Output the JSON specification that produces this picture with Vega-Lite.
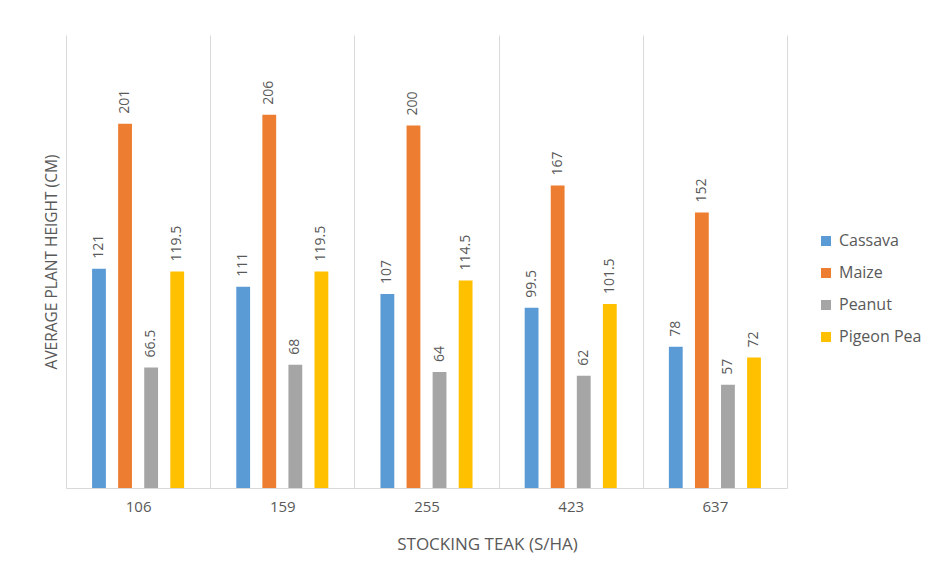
{
  "$schema": "https://vega.github.io/schema/vega-lite/v6.json",
  "width": 721,
  "height": 453,
  "autosize": "none",
  "padding": {"left": 66, "top": 35, "right": 141, "bottom": 75},
  "background": "white",
  "config": {
    "view": {"stroke": null},
    "font": "Open Sans"
  },
  "data": {
    "values": [
      {"stocking": "106", "crop": "Cassava", "height": 121},
      {"stocking": "106", "crop": "Maize", "height": 201},
      {"stocking": "106", "crop": "Peanut", "height": 66.5},
      {"stocking": "106", "crop": "Pigeon Pea", "height": 119.5},
      {"stocking": "159", "crop": "Cassava", "height": 111},
      {"stocking": "159", "crop": "Maize", "height": 206},
      {"stocking": "159", "crop": "Peanut", "height": 68},
      {"stocking": "159", "crop": "Pigeon Pea", "height": 119.5},
      {"stocking": "255", "crop": "Cassava", "height": 107},
      {"stocking": "255", "crop": "Maize", "height": 200},
      {"stocking": "255", "crop": "Peanut", "height": 64},
      {"stocking": "255", "crop": "Pigeon Pea", "height": 114.5},
      {"stocking": "423", "crop": "Cassava", "height": 99.5},
      {"stocking": "423", "crop": "Maize", "height": 167},
      {"stocking": "423", "crop": "Peanut", "height": 62},
      {"stocking": "423", "crop": "Pigeon Pea", "height": 101.5},
      {"stocking": "637", "crop": "Cassava", "height": 78},
      {"stocking": "637", "crop": "Maize", "height": 152},
      {"stocking": "637", "crop": "Peanut", "height": 57},
      {"stocking": "637", "crop": "Pigeon Pea", "height": 72}
    ]
  },
  "encoding": {
    "x": {
      "field": "stocking",
      "type": "nominal",
      "sort": ["106", "159", "255", "423", "637"],
      "scale": {"paddingInner": 0, "paddingOuter": 0},
      "axis": {
        "title": "STOCKING TEAK (S/HA)",
        "tickBand": "extent",
        "grid": true,
        "gridColor": "#d9d9d9",
        "ticks": false,
        "domainColor": "#d9d9d9",
        "labelAngle": 0,
        "labelFontSize": 15,
        "labelColor": "#595959",
        "labelPadding": 11,
        "titleFontSize": 17,
        "titleFontWeight": "normal",
        "titleColor": "#595959",
        "titlePadding": 22,
        "titleX": 421
      }
    },
    "xOffset": {
      "field": "crop",
      "type": "nominal",
      "sort": ["Cassava", "Maize", "Peanut", "Pigeon Pea"],
      "scale": {"paddingInner": 0.47, "paddingOuter": 1.18}
    },
    "y": {
      "field": "height",
      "type": "quantitative",
      "scale": {"domain": [0, 250]},
      "axis": {
        "title": "AVERAGE PLANT HEIGHT (CM)",
        "labels": false,
        "ticks": false,
        "domain": false,
        "grid": false,
        "titleFontSize": 15.5,
        "titleFontWeight": "normal",
        "titleColor": "#595959",
        "titlePadding": 7
      }
    }
  },
  "layer": [
    {
      "mark": {"type": "bar"},
      "encoding": {
        "color": {
          "field": "crop",
          "type": "nominal",
          "sort": ["Cassava", "Maize", "Peanut", "Pigeon Pea"],
          "scale": {
            "domain": ["Cassava", "Maize", "Peanut", "Pigeon Pea"],
            "range": ["#5B9BD5", "#ED7D31", "#A5A5A5", "#FFC000"]
          },
          "legend": {
            "title": null,
            "orient": "none",
            "legendX": 752,
            "legendY": 198,
            "symbolType": "square",
            "symbolSize": 100,
            "symbolStrokeWidth": 0,
            "labelFontSize": 16,
            "labelColor": "#595959",
            "rowPadding": 16,
            "labelOffset": 5
          }
        }
      }
    },
    {
      "mark": {
        "type": "text",
        "angle": 270,
        "align": "left",
        "baseline": "middle",
        "dx": 10,
        "fontSize": 14,
        "color": "#595959"
      },
      "encoding": {
        "text": {"field": "height", "type": "quantitative"}
      }
    }
  ]
}
